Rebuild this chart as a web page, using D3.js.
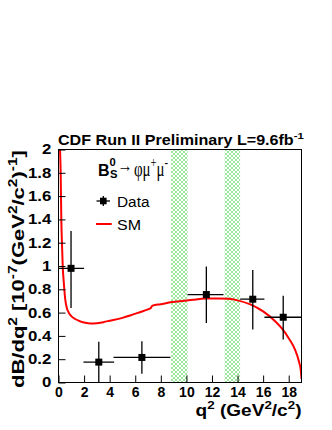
<!DOCTYPE html>
<html>
<head>
<meta charset="utf-8">
<script src="https://cdn.jsdelivr.net/npm/d3@7"></script>
<style>
  body { margin: 0; background: #fff; }
  text { font-family: "Liberation Sans", Arial, Helvetica, sans-serif; }
</style>
</head>
<body>
<div id="chart"></div>
<script>
// -- data ----------------------------------------------
const binLo  = [0.0, 1.95, 4.3, 10.09, 14.2, 16.1];
const binHi  = [2.0, 4.35, 8.75, 12.9, 16.1, 19.0];
const q2     = [0.98, 3.15, 6.52, 11.56, 15.19, 17.57];
const dBdq2  = [0.98, 0.175, 0.215, 0.755, 0.715, 0.56];
const errTop = [1.30, 0.35, 0.355, 0.995, 0.965, 0.745];
const errBot = [0.64, 0.0, 0.075, 0.51, 0.455, 0.37];

// SM prediction (red curve)
const smQ2  = [0.12, 0.17, 0.22, 0.27, 0.33, 0.42, 0.52, 0.65, 0.8, 1.0, 1.3, 1.7, 2.1, 2.5, 3.0, 3.5, 4.0, 5.0, 5.6, 6.4, 7.0, 7.2, 7.35, 8.0, 8.74, 9.3, 10.5, 11.5, 12.5, 13.3, 14.0, 15.0, 16.0, 17.0, 17.5, 18.0, 18.5, 18.8, 18.95, 19.0];
const smVal = [2.0, 1.8, 1.4, 1.2, 1.0, 0.85, 0.72, 0.64, 0.6, 0.57, 0.545, 0.525, 0.512, 0.506, 0.508, 0.518, 0.53, 0.555, 0.575, 0.605, 0.628, 0.638, 0.66, 0.672, 0.688, 0.695, 0.71, 0.72, 0.722, 0.718, 0.705, 0.67, 0.61, 0.52, 0.46, 0.38, 0.28, 0.18, 0.1, 0.03];

// charmonium veto regions (hatched)
const vetoLo = [8.8, 13.0];
const vetoHi = [10.09, 14.2];

const xTicks = [0, 2, 4, 6, 8, 10, 12, 14, 16, 18];
const yTicks = [0, 0.2, 0.4, 0.6, 0.8, 1, 1.2, 1.4, 1.6, 1.8, 2];

// -- layout --------------------------------------------
let W = 332, H = 430;
var frame = { left: 58.5, right: 301.5, top: 149.5, bottom: 382.5 };

var svg = d3.select("#chart").append("svg")
    .attr("width", W)
    .attr("height", H);

var x = d3.scaleLinear().domain([0, 19]).range([frame.left, frame.right]);
var y = d3.scaleLinear().domain([0, 2]).range([frame.bottom, frame.top]);

var defs = svg.append("defs");
var pat = defs.append("pattern")
    .attr("id", "hatch")
    .attr("patternUnits", "userSpaceOnUse")
    .attr("width", 4)
    .attr("height", 4);
pat.append("path")
    .attr("d", "M0,4L4,0M-1,1L1,-1M3,5L5,3M0,0L4,4M-1,3L1,5M3,-1L5,1")
    .style("stroke", "#70dc70")
    .style("stroke-width", 0.7);

defs.append("clipPath").attr("id", "plotclip")
  .append("rect")
    .attr("x", frame.left)
    .attr("y", frame.top)
    .attr("width", frame.right - frame.left)
    .attr("height", frame.bottom - frame.top);

// text with super/subscripts, optionally squeezed to a given width
function rich(parent, px, py, segs, o) {
    var t = parent.append("text")
        .attr("font-size", o.size)
        .attr("font-weight", o.weight || "normal")
        .attr("text-anchor", o.anchor || "start")
        .style("fill", o.fill || "#000");
    if (o.family) t.style("font-family", o.family);
    var shift = 0;
    segs.forEach(s => {
        var lvl = s.sup ? -(s.up || 0.42) * o.size : (s.sub ? (s.down || 0.12) * o.size : 0);
        var ts = t.append("tspan")
            .attr("dy", lvl - shift)
            .attr("font-size", (s.sup || s.sub) ? o.size * (s.scale || 0.7) : o.size)
            .text(s.t);
        if (s.dx) ts.attr("dx", s.dx);
        shift = lvl;
    });
    var tr = "translate(" + px + "," + py + ")" + (o.rot ? " rotate(" + o.rot + ")" : "");
    if (o.width) {
        var w = t.node().getComputedTextLength();
        tr += " scale(" + (o.width / w) + ",1)";
    }
    t.attr("transform", tr);
    return t;
}

// -- veto bands ----------------------------------------
svg.append("g").selectAll("rect")
    .data(vetoLo)
    .enter()
    .append("rect")
    .attr("x", (d, i) => x(d))
    .attr("y", frame.top)
    .attr("width", (d, i) => x(vetoHi[i]) - x(d))
    .attr("height", frame.bottom - frame.top)
    .style("fill", "url(#hatch)");

// -- SM curve ------------------------------------------
var smLine = d3.line()
    .x((d, i) => x(smQ2[i]))
    .y(d => y(d))
    .curve(d3.curveMonotoneX);

svg.append("path")
    .datum(smVal)
    .attr("clip-path", "url(#plotclip)")
    .attr("d", smLine)
    .style("fill", "none")
    .style("stroke", "#ff0000")
    .style("stroke-width", 2);

// -- data points ---------------------------------------
var pts = svg.append("g").attr("clip-path", "url(#plotclip)");
pts.selectAll("line.h")
    .data(q2)
    .enter()
    .append("line")
    .attr("class", "h")
    .attr("x1", (d, i) => x(binLo[i]))
    .attr("x2", (d, i) => x(binHi[i]))
    .attr("y1", (d, i) => y(dBdq2[i]))
    .attr("y2", (d, i) => y(dBdq2[i]))
    .style("stroke", "#000")
    .style("stroke-width", 1.3);
pts.selectAll("line.v")
    .data(q2)
    .enter()
    .append("line")
    .attr("class", "v")
    .attr("x1", d => x(d))
    .attr("x2", d => x(d))
    .attr("y1", (d, i) => y(errBot[i]))
    .attr("y2", (d, i) => y(errTop[i]))
    .style("stroke", "#000")
    .style("stroke-width", 1.3);
pts.selectAll("rect")
    .data(q2)
    .enter()
    .append("rect")
    .attr("x", d => x(d) - 3.5)
    .attr("y", (d, i) => y(dBdq2[i]) - 3.5)
    .attr("width", 7)
    .attr("height", 7)
    .style("fill", "#000");

// -- frame + axes --------------------------------------
svg.append("rect")
    .attr("x", frame.left)
    .attr("y", frame.top)
    .attr("width", frame.right - frame.left)
    .attr("height", frame.bottom - frame.top)
    .style("fill", "none")
    .style("stroke", "#000")
    .style("stroke-width", 1);

var yMinor = d3.range(0, 2.0001, 0.04);
var xMinor = d3.range(0, 19.0001, 0.5);

var gy = svg.append("g").attr("transform", "translate(" + frame.left + ",0)");
gy.call(d3.axisLeft(y).tickValues(yMinor).tickSize(-3.5).tickFormat(""));
gy.call(d3.axisLeft(y).tickValues(yTicks).tickSize(-7).tickPadding(6)
        .tickFormat(d => d3.format("")(+d.toFixed(1))));
gy.select(".domain").remove();
gy.selectAll("text")
    .attr("font-size", 14)
    .attr("font-weight", "bold")
    .attr("font-family", "Liberation Sans, Arial, sans-serif")
    .attr("transform", "scale(1.2,1)");
gy.selectAll("line").style("stroke", "#000");

var gx = svg.append("g").attr("transform", "translate(0," + frame.bottom + ")");
gx.call(d3.axisBottom(x).tickValues(xMinor).tickSize(-3.5).tickFormat(""));
gx.call(d3.axisBottom(x).tickValues(xTicks).tickSize(-7).tickPadding(5));
gx.select(".domain").remove();
gx.selectAll("text")
    .attr("font-size", 14)
    .attr("font-weight", "bold")
    .attr("font-family", "Liberation Sans, Arial, sans-serif");
gx.selectAll("line").style("stroke", "#000");

// -- titles --------------------------------------------
rich(svg, 58, 145,
    [{ t: "CDF Run II Preliminary L=9.6fb" }, { t: "-1", sup: true }],
    { size: 14, weight: "bold", width: 246 });

rich(svg, 301.5, 416,
    [{ t: "q" }, { t: "2", sup: true }, { t: " (GeV" }, { t: "2", sup: true },
     { t: "/c" }, { t: "2", sup: true }, { t: ")" }],
    { size: 16, weight: "bold", anchor: "end", width: 106 });

rich(svg, 24, 388,
    [{ t: "dB/dq" }, { t: "2", sup: true }, { t: " [10" }, { t: "-7", sup: true },
     { t: "(GeV" }, { t: "2", sup: true }, { t: "/c" }, { t: "2", sup: true },
     { t: ")" }, { t: "-1", sup: true }, { t: "]" }],
    { size: 17, weight: "bold", rot: -90, width: 238 });

// -- legend --------------------------------------------
var leg = svg.append("g");
// B_s^0 as one text: superscript 0 stacked over subscript S
rich(leg, 98, 176,
    [{ t: "B" }, { t: "0", sup: true, up: 0.6, scale: 0.7 },
     { t: "S", sub: true, down: 0.14, scale: 0.7, dx: -5.8 }],
    { size: 16, weight: "bold" });
rich(leg, 117.5, 172, [{ t: "\u2192" }], { size: 19, family: "Liberation Serif, serif", width: 15 });
rich(leg, 134, 176,
    [{ t: "\u03c6\u03bc" }, { t: "+", sup: true }, { t: "\u03bc" }, { t: "-", sup: true }],
    { size: 21, family: "Liberation Serif, serif", width: 34 });

leg.append("line")
    .attr("x1", 96.5).attr("x2", 110)
    .attr("y1", 201).attr("y2", 201)
    .style("stroke", "#000").style("stroke-width", 1.3);
leg.append("line")
    .attr("x1", 103.3).attr("x2", 103.3)
    .attr("y1", 196).attr("y2", 206)
    .style("stroke", "#000").style("stroke-width", 1.3);
leg.append("rect")
    .attr("x", 100).attr("y", 197.7)
    .attr("width", 6.6).attr("height", 6.6)
    .style("fill", "#000");
rich(leg, 117, 207, [{ t: "Data" }], { size: 15, width: 32.5 });

leg.append("line")
    .attr("x1", 96).attr("x2", 111.7)
    .attr("y1", 224).attr("y2", 224)
    .style("stroke", "#ff0000").style("stroke-width", 2);
rich(leg, 117, 230, [{ t: "SM" }], { size: 15, width: 24 });
</script>
</body>
</html>
